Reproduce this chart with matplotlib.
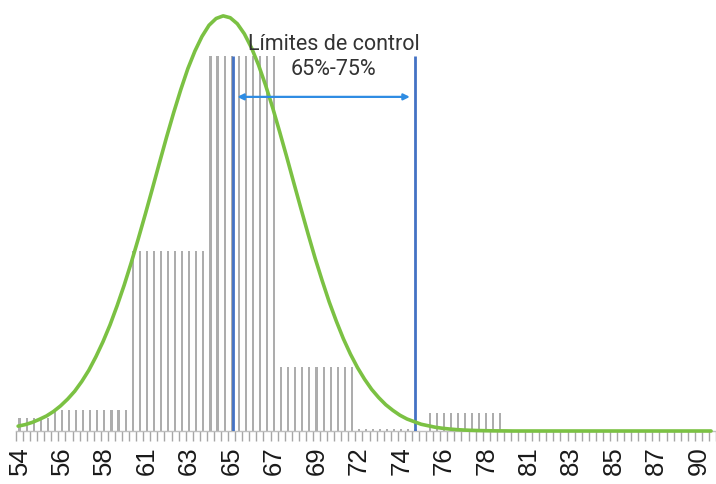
import matplotlib
matplotlib.use("Agg")
import matplotlib.pyplot as plt

# Histogram bar heights (one per fine category, relative units)
bar_values = [
    3.5, 3.5, 3.5, 3.5, 3.5,
    5.6, 5.6, 5.6, 5.6, 5.6, 5.6, 5.6, 5.6, 5.6, 5.6, 5.6,
    48, 48, 48, 48, 48, 48, 48, 48, 48, 48, 48,
    100, 100, 100, 100, 100, 100, 100, 100, 100, 100,
    17.1, 17.1, 17.1, 17.1, 17.1, 17.1, 17.1, 17.1, 17.1, 17.1, 17.1,
    0.5, 0.5, 0.5, 0.5, 0.5, 0.5, 0.5, 0.5, 0.5,
    0,
    4.8, 4.8, 4.8, 4.8, 4.8, 4.8, 4.8, 4.8, 4.8, 4.8, 4.8,
    0, 0, 0, 0, 0, 0, 0, 0, 0, 0,
    0, 0, 0, 0, 0, 0, 0, 0, 0, 0,
    0, 0, 0, 0, 0, 0, 0, 0, 0, 0,
]

# Normal-curve series (read per category)
curve_values = [
    1.3, 1.7, 2.3, 3.1, 4.0, 5.2, 6.7, 8.5, 10.6, 13.2,
    16.2, 19.8, 23.8, 28.3, 33.4, 38.9, 44.9, 51.3, 57.9, 64.7,
    71.6, 78.4, 84.9, 91.0, 96.6, 101.3, 105.2, 108.2, 110.0, 110.7,
    110.2, 108.6, 105.9, 102.2, 97.6, 92.2, 86.2, 79.7, 73.0, 66.1,
    59.3, 52.6, 46.1, 40.1, 34.4, 29.3, 24.6, 20.5, 16.9, 13.8,
    11.1, 8.9, 7.0, 5.5, 4.2, 3.2, 2.5, 1.8, 1.4, 1.0,
    0.73, 0.53, 0.37, 0.26, 0.18, 0.12, 0.08, 0.05, 0.03, 0.02,
    0, 0, 0, 0, 0, 0, 0, 0, 0, 0,
    0, 0, 0, 0, 0, 0, 0, 0, 0, 0,
    0, 0, 0, 0, 0, 0, 0, 0, 0,
]

tick_labels = ["54", "56", "58", "61", "63", "65", "67", "69", "72",
               "74", "76", "78", "81", "83", "85", "87", "90"]
label_step = 6

limit_positions = [30.2, 55.9]   # 65% and 75% on the category axis
limit_text = "Límites de control\n65%-75%"

fig = plt.figure(figsize=(7.16, 4.85), dpi=100)
ax = fig.add_axes([16 / 716, 53 / 485, 700 / 716, 432 / 485])

n = len(bar_values)
xs = list(range(n))
ax.bar(xs, bar_values, width=0.3, color="#ADADAD", zorder=2)
ax.plot([x - 0.2 for x in xs], curve_values, color="#7BC143", lw=2.6,
        zorder=5, clip_on=False, solid_capstyle="round")

ax.vlines(limit_positions, 0, 100, color="#4472C4", lw=2, zorder=4)
ax.annotate("", xy=(limit_positions[1] - 0.7, 89.1),
            xytext=(limit_positions[0] + 0.6, 89.1),
            arrowprops=dict(arrowstyle="<|-|>", color="#2E8CE3", lw=1.6,
                            mutation_scale=9, shrinkA=0, shrinkB=0), zorder=6)
ax.text(44.4, 100.0, limit_text, ha="center", va="center", fontsize=15.5,
        family=["Roboto", "DejaVu Sans"], color="#333333", linespacing=1.3,
        zorder=7)

ax.set_xlim(-0.5, n - 0.5)
ax.set_ylim(0, 115.2)

for s in ["left", "right", "top"]:
    ax.spines[s].set_visible(False)
ax.spines["bottom"].set_color("#BFBFBF")
ax.spines["bottom"].set_linewidth(1)

ax.set_yticks([])
ax.set_xticks([i * label_step for i in range(len(tick_labels))])
ax.set_xticklabels(tick_labels, rotation=90, fontsize=18.5,
                   family=["Liberation Sans", "DejaVu Sans"], color="#1A1A1A")
ax.tick_params(axis="x", which="major", length=0, pad=10)
ax.set_xticks([i - 0.5 for i in range(n + 1)], minor=True)
ax.tick_params(axis="x", which="minor", length=7, width=1, color="#A6A6A6")

fig.savefig("out.png", dpi=100)
